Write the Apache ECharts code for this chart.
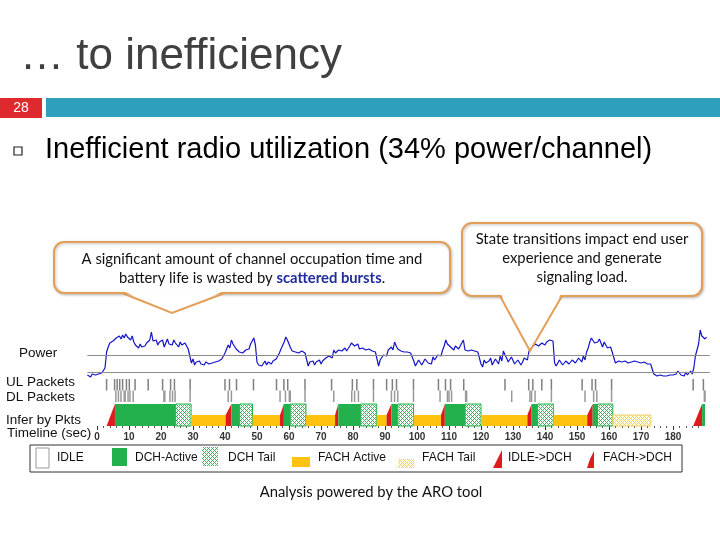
<!DOCTYPE html>
<html>
<head>
<meta charset="utf-8">
<script src="https://cdn.jsdelivr.net/npm/echarts@6/dist/echarts.min.js"></script>
<style>
  html, body { margin: 0; background: #fff; }
  #chart { width: 720px; height: 540px; }
</style>
</head>
<body>
<div id="chart"></div>
<script>
// power trace, one sample every 0.5 s from t = -3 s (relative units)
const powerStart = -3;
const powerStep = 0.5;
const powerValues = [
  5, 7, 3, 6, 4, 5, 3, 6, 4, 7,
  8, 12, 28, 33, 37, 35, 39, 37, 42, 40,
  44, 41, 45, 42, 46, 43, 45, 40, 44, 38,
  35, 37, 32, 36, 33, 35, 34, 37, 36, 40,
  48, 39, 37, 40, 35, 38, 36, 40, 33, 37,
  41, 36, 38, 35, 40, 37, 36, 33, 38, 35,
  33, 37, 35, 31, 33, 17, 21, 15, 18, 16,
  19, 16, 18, 15, 18, 17, 16, 18, 17, 16,
  18, 17, 19, 18, 21, 24, 27, 31, 35, 32,
  40, 36, 35, 31, 30, 28, 29, 27, 28, 30,
  29, 31, 36, 39, 42, 35, 18, 15, 17, 14,
  16, 19, 15, 18, 17, 16, 19, 17, 21, 24,
  27, 31, 33, 38, 43, 40, 36, 32, 29, 28,
  28, 29, 27, 28, 29, 28, 27, 28, 14, 18,
  16, 19, 15, 18, 17, 20, 16, 19, 18, 22,
  20, 24, 26, 22, 30, 27, 27, 30, 31, 29,
  30, 32, 29, 31, 34, 37, 38, 34, 33, 36,
  31, 29, 32, 30, 30, 31, 31, 30, 29, 30,
  28, 27, 14, 20, 22, 25, 27, 24, 30, 28,
  33, 30, 38, 34, 31, 29, 29, 28, 28, 29,
  28, 27, 27, 26, 19, 14, 16, 20, 18, 15,
  18, 21, 22, 17, 19, 16, 23, 20, 21, 25,
  26, 24, 30, 34, 40, 36, 35, 33, 32, 30,
  34, 36, 31, 33, 37, 40, 30, 28, 29, 31,
  30, 29, 29, 28, 28, 30, 16, 13, 20, 17,
  17, 19, 22, 15, 18, 21, 21, 16, 24, 19,
  29, 25, 22, 18, 19, 23, 21, 16, 17, 20,
  20, 15, 18, 22, 24, 20, 29, 27, 33, 35,
  36, 38, 34, 35, 37, 36, 35, 38, 38, 40,
  42, 39, 17, 14, 15, 20, 18, 15, 16, 19,
  19, 16, 17, 20, 20, 17, 18, 22, 21, 18,
  24, 20, 28, 32, 38, 42, 40, 37, 35, 38,
  41, 37, 33, 38, 35, 32, 30, 33, 28, 29,
  17, 15, 19, 17, 18, 16, 19, 17, 17, 19,
  18, 16, 19, 17, 18, 16, 17, 19, 18, 16,
  16, 18, 16, 15, 6, 4, 4, 3, 5, 4,
  4, 5, 4, 4, 5, 4, 5, 6, 6, 9,
  10, 5, 5, 4, 8, 5, 7, 9, 6, 12,
  24, 30, 36, 50, 44, 42, 41, 43
];
const powerLevels = [8, 25];

// packet times (sec)
const ulPackets = [3.0, 5.5, 6.3, 7.1, 8.0, 9.2, 10.1, 11.9, 16.0, 20.5, 23.0, 24.2, 29.1,
  40.0, 41.4, 43.6, 48.9, 56.1, 58.4, 59.6, 65.0, 73.3, 79.8, 81.2, 86.4, 90.5, 92.3, 93.6,
  98.9, 106.7, 108.9, 110.5, 114.6, 127.5, 134.9, 136.2, 139.0, 142.0, 151.6, 154.7, 155.8,
  160.8, 186.3, 189.5];
const dlPackets = [5.9, 6.7, 7.5, 8.5, 8.8, 9.7, 10.3, 11.3, 20.9, 21.2, 22.8, 23.6, 24.4, 29.1,
  41.0, 42.0, 57.2, 58.9, 60.1, 60.4, 65.0, 74.0, 79.6, 80.5, 81.7, 86.4, 92.0, 93.0, 94.0,
  98.9, 107.2, 109.5, 110.0, 110.8, 115.2, 115.5, 129.6, 135.3, 135.8, 136.9, 142.0, 152.5,
  155.2, 156.2, 160.8, 189.8, 190.0];

// inferred RRC states
const stateStart = [3.0, 5.6, 24.6, 29.4, 40.2, 42.0, 44.6, 48.6, 57.2, 58.4, 60.4, 65.3, 74.4,
  75.4, 82.4, 87.4, 90.5, 92.0, 94.0, 98.9, 107.5, 108.7, 115.0, 120.0, 134.5, 135.8, 137.7,
  142.6, 153.2, 154.9, 156.4, 161.2, 186.3, 189.1];
const stateEnd = [5.6, 24.6, 29.4, 40.2, 42.0, 44.6, 48.6, 57.2, 58.4, 60.4, 65.3, 74.4, 75.4,
  82.4, 87.4, 90.5, 92.0, 94.0, 98.9, 107.5, 108.7, 115.0, 120.0, 134.5, 135.8, 137.7, 142.6,
  153.2, 154.9, 156.4, 161.2, 173.1, 189.1, 190.0];
const stateType = ['I2D', 'DCH', 'DTAIL', 'FACH', 'F2D', 'DCH', 'DTAIL', 'FACH', 'F2D', 'DCH',
  'DTAIL', 'FACH', 'F2D', 'DCH', 'DTAIL', 'FACH', 'F2D', 'DCH', 'DTAIL', 'FACH', 'F2D', 'DCH',
  'DTAIL', 'FACH', 'F2D', 'DCH', 'DTAIL', 'FACH', 'F2D', 'DCH', 'DTAIL', 'FTAIL', 'I2D', 'DCH'];
const stateKinds = ['IDLE', 'DCH', 'DTAIL', 'FACH', 'FTAIL', 'I2D', 'F2D'];

const timeTicks = [0, 10, 20, 30, 40, 50, 60, 70, 80, 90, 100, 110, 120, 130, 140, 150, 160, 170, 180];
const legendNames = ['IDLE', 'DCH-Active', 'DCH Tail', 'FACH Active', 'FACH Tail', 'IDLE->DCH', 'FACH->DCH'];

const GREEN = '#22b14c', YELLOW = '#ffc20e', RED = '#e01b1b', ORANGE = '#e39e57';

// small cross-hatch tiles for the tail states
function hatch(line, bg) {
  const c = document.createElement('canvas');
  c.width = 4; c.height = 4;
  const g = c.getContext('2d');
  g.fillStyle = bg;
  g.fillRect(0, 0, 4, 4);
  g.fillStyle = line;
  [[0, 0], [1, 1], [2, 2], [3, 3], [1, 3], [3, 1]].forEach(p => g.fillRect(p[0], p[1], 1, 1));
  return { image: c, repeat: 'repeat' };
}
const dchTailFill = hatch('#3cb95e', '#ffffff');
const fachTailFill = hatch('#f0d264', '#fffbe6');

const powerData = powerValues.map((v, i) => [powerStart + i * powerStep, v]);
const stateData = stateStart.map((s, i) => [s, stateEnd[i], stateKinds.indexOf(stateType[i])]);
const minorTicks = [];
for (let t = 0; t <= 190; t += 2) if (t % 10 !== 0) minorTicks.push(t);

const myChart = echarts.init(document.getElementById('chart'));

function renderState(params, api) {
  const t0 = api.value(0), t1 = api.value(1), kind = stateKinds[api.value(2)];
  const bl = api.coord([t0, 0]), br = api.coord([t1, 0]);
  const top = api.coord([t0, 1])[1], mid = api.coord([t0, 0.5])[1];
  if (kind === 'DCH') {
    return { type: 'rect', shape: { x: bl[0], y: top, width: br[0] - bl[0], height: bl[1] - top }, style: { fill: GREEN } };
  }
  if (kind === 'DTAIL') {
    return { type: 'rect', shape: { x: bl[0], y: top, width: br[0] - bl[0], height: bl[1] - top },
      style: { fill: dchTailFill, stroke: GREEN, lineWidth: 1 } };
  }
  if (kind === 'FACH') {
    return { type: 'rect', shape: { x: bl[0], y: mid, width: br[0] - bl[0], height: bl[1] - mid }, style: { fill: YELLOW } };
  }
  if (kind === 'FTAIL') {
    return { type: 'rect', shape: { x: bl[0], y: mid, width: br[0] - bl[0], height: bl[1] - mid },
      style: { fill: fachTailFill, stroke: '#f0d264', lineWidth: 1 } };
  }
  if (kind === 'I2D') {
    return { type: 'polygon', shape: { points: [[bl[0], bl[1]], [br[0], top], [br[0], br[1]]] }, style: { fill: RED } };
  }
  if (kind === 'F2D') {
    return { type: 'polygon', shape: { points: [[bl[0], bl[1]], [bl[0], mid], [br[0], top], [br[0], br[1]]] }, style: { fill: RED } };
  }
  return null;
}

function renderPacket(color) {
  return function (params, api) {
    const a = api.coord([api.value(0), api.value(1)]);
    const b = api.coord([api.value(0), api.value(1) + 1]);
    return { type: 'line', shape: { x1: a[0], y1: a[1], x2: b[0], y2: b[1] }, style: { stroke: color, lineWidth: 1.5 } };
  };
}

const sans = '"Liberation Sans", Arial, sans-serif';
const callFont = 'Lato, "Noto Sans", sans-serif';

function label(text, x, y, size, extra) {
  return Object.assign({ type: 'text', x: x, y: y,
    style: { text: text, fontSize: size, fontFamily: sans, fill: '#111', verticalAlign: 'middle' } }, extra || {});
}

const legendX = [57, 135, 228, 318, 422, 508, 603];

const graphics = [
  // slide header
  { type: 'text', x: 20, y: 57, style: { text: '\u2026 to inefficiency', fontSize: 44, fontFamily: sans, fill: '#404040', verticalAlign: 'middle' } },
  { type: 'rect', shape: { x: 0, y: 98, width: 42, height: 20 }, style: { fill: '#de2a2f' } },
  { type: 'rect', shape: { x: 46, y: 98, width: 674, height: 19 }, style: { fill: '#2e9fbd' } },
  { type: 'text', x: 21, y: 108, style: { text: '28', fontSize: 14, fontFamily: sans, fill: '#fff', align: 'center', verticalAlign: 'middle' } },
  { type: 'rect', shape: { x: 14, y: 147, width: 8, height: 8 }, style: { fill: 'none', stroke: '#222', lineWidth: 1.2 } },
  { type: 'text', x: 45, y: 150, style: { text: 'Inefficient radio utilization (34% power/channel)', fontSize: 29, fontFamily: sans, fill: '#000', verticalAlign: 'middle' } },

  // callout 1
  { type: 'rect', shape: { x: 54, y: 242, width: 396, height: 51, r: 10 },
    style: { fill: '#fff', stroke: ORANGE, lineWidth: 2, shadowBlur: 3, shadowColor: 'rgba(0,0,0,0.25)', shadowOffsetX: 1, shadowOffsetY: 1 } },
  { type: 'polygon', shape: { points: [[123, 291], [172, 312], [224, 291]] }, style: { fill: '#fff' } },
  { type: 'polyline', shape: { points: [[122, 293], [172, 313], [225, 293]] }, style: { stroke: ORANGE, lineWidth: 2, fill: 'none' } },
  { type: 'text', x: 252, y: 259, style: { text: 'A significant amount of channel occupation time and', fontSize: 14.8, fontFamily: callFont, fill: '#111', align: 'center', verticalAlign: 'middle' } },
  { type: 'text', x: 252, y: 278, style: { text: 'battery life is wasted by {b|scattered bursts}.', fontSize: 14.8, fontFamily: callFont, fill: '#111', align: 'center', verticalAlign: 'middle',
    rich: { b: { fontSize: 14.8, fontFamily: callFont, fontWeight: 'bold', fill: '#1f2d9a' } } } },

  // callout 2
  { type: 'rect', shape: { x: 462, y: 223, width: 240, height: 73, r: 10 },
    style: { fill: '#fff', stroke: ORANGE, lineWidth: 2, shadowBlur: 3, shadowColor: 'rgba(0,0,0,0.25)', shadowOffsetX: 1, shadowOffsetY: 1 } },
  { type: 'polygon', shape: { points: [[501, 294], [530, 349], [561, 294]] }, style: { fill: '#fff' } },
  { type: 'polyline', shape: { points: [[500, 296], [530, 351], [562, 296]] }, style: { stroke: ORANGE, lineWidth: 2, fill: 'none' }, z: 200 },
  { type: 'text', x: 582, y: 239, style: { text: 'State transitions impact end user', fontSize: 14.8, fontFamily: callFont, fill: '#111', align: 'center', verticalAlign: 'middle' } },
  { type: 'text', x: 582, y: 258, style: { text: 'experience and generate', fontSize: 14.8, fontFamily: callFont, fill: '#111', align: 'center', verticalAlign: 'middle' } },
  { type: 'text', x: 582, y: 277, style: { text: 'signaling load.', fontSize: 14.8, fontFamily: callFont, fill: '#111', align: 'center', verticalAlign: 'middle' } },

  // row labels
  label('Power', 19, 353, 13.5),
  label('UL Packets', 6, 382, 13.5),
  label('DL Packets', 6, 397, 13.5),
  label('Infer by Pkts', 6, 420, 13.5),
  label('Timeline (sec)', 7, 433, 13.5),

  // legend box
  { type: 'rect', shape: { x: 30, y: 445, width: 652, height: 27 }, style: { fill: '#fff', stroke: '#333', lineWidth: 1 } },
  { type: 'rect', shape: { x: 36, y: 448, width: 13, height: 20 }, style: { fill: '#fff', stroke: '#999', lineWidth: 1 } },
  { type: 'rect', shape: { x: 112, y: 448, width: 15, height: 18 }, style: { fill: GREEN } },
  { type: 'rect', shape: { x: 202, y: 447, width: 16, height: 19 }, style: { fill: dchTailFill } },
  { type: 'rect', shape: { x: 292, y: 457, width: 18, height: 10 }, style: { fill: YELLOW } },
  { type: 'rect', shape: { x: 398, y: 459, width: 16, height: 9 }, style: { fill: fachTailFill } },
  { type: 'polygon', shape: { points: [[493, 468], [498, 458], [502, 450], [502, 468]] }, style: { fill: RED } },
  { type: 'polygon', shape: { points: [[587, 468], [590, 459], [594, 451], [594, 468]] }, style: { fill: RED } },

  // caption
  { type: 'text', x: 371, y: 492, style: { text: 'Analysis powered by the ARO tool', fontSize: 14.8, fontFamily: callFont, fill: '#111', align: 'center', verticalAlign: 'middle' } }
];
legendNames.forEach((n, i) => graphics.push(label(n, legendX[i], 458, 12)));

const gridLeft = 87.4, gridWidth = 622.4, tMin = -3, tMax = 191.5;

const option = {
  animation: false,
  grid: [
    { left: gridLeft, width: gridWidth, top: 325, height: 55 },
    { left: gridLeft, width: gridWidth, top: 379, height: 23 },
    { left: gridLeft, width: gridWidth, top: 404, height: 22 }
  ],
  xAxis: [
    { gridIndex: 0, type: 'value', min: tMin, max: tMax, show: false },
    { gridIndex: 1, type: 'value', min: tMin, max: tMax, show: false },
    { gridIndex: 2, type: 'value', min: tMin, max: tMax, position: 'bottom',
      axisLine: { show: false }, splitLine: { show: false },
      axisTick: { customValues: timeTicks, length: 4, lineStyle: { color: '#333' } },
      axisLabel: { customValues: timeTicks, fontSize: 10, fontWeight: 'bold', fontFamily: sans, color: '#333', margin: 6 } },
    { gridIndex: 2, type: 'value', min: tMin, max: tMax, position: 'bottom', offset: 0,
      axisLine: { show: false }, splitLine: { show: false },
      axisTick: { customValues: minorTicks, length: 2, lineStyle: { color: '#555' } },
      axisLabel: { show: false } }
  ],
  yAxis: [
    { gridIndex: 0, type: 'value', min: 0, max: 55, show: false },
    { gridIndex: 1, type: 'value', min: 0, max: 2, show: false },
    { gridIndex: 2, type: 'value', min: 0, max: 1, show: false }
  ],
  series: [
    { type: 'line', xAxisIndex: 0, yAxisIndex: 0, data: powerData, showSymbol: false, silent: true,
      lineStyle: { color: '#1414c8', width: 1.2 },
      markLine: { silent: true, symbol: 'none', label: { show: false },
        lineStyle: { color: '#8c8c8c', type: 'solid', width: 1 },
        data: powerLevels.map(v => ({ yAxis: v })) } },
    { type: 'custom', xAxisIndex: 1, yAxisIndex: 1, data: ulPackets.map(t => [t, 1]), renderItem: renderPacket('#808080'), silent: true },
    { type: 'custom', xAxisIndex: 1, yAxisIndex: 1, data: dlPackets.map(t => [t, 0]), renderItem: renderPacket('#999999'), silent: true },
    { type: 'custom', xAxisIndex: 2, yAxisIndex: 2, data: stateData, renderItem: renderState, silent: true,
      encode: { x: [0, 1], y: 2 } }
  ],
  graphic: graphics
};

myChart.setOption(option);
</script>
</body>
</html>
